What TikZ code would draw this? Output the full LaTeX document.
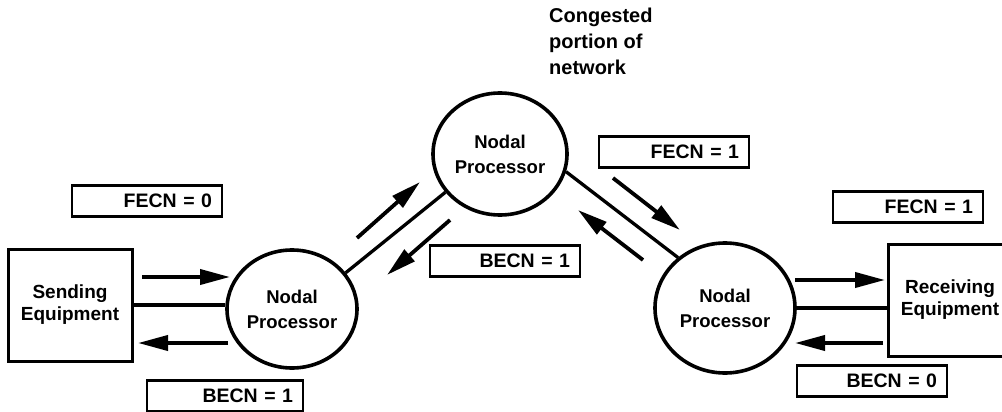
\documentclass[tikz,border=0pt]{standalone}
\usepackage{fontspec}
\setmainfont{Liberation Sans}
\usetikzlibrary{arrows.meta,shapes.geometric,calc}
\begin{document}
\begin{tikzpicture}[x=1pt,y=-1pt,
  proc/.style={draw,ellipse,line width=3.6pt,inner sep=0pt,align=center,
    font=\fontsize{18.5}{25}\selectfont\bfseries},
  equip/.style={draw,rectangle,line width=3pt,inner sep=0pt,align=center,
    minimum width=124pt,minimum height=112pt,
    font=\fontsize{19}{22}\selectfont\bfseries},
  flag/.style={draw,rectangle,line width=2.8pt,inner xsep=10pt,inner ysep=0pt,
    text width=130pt,align=right,minimum height=31pt,
    font=\fontsize{19.5}{22}\selectfont\bfseries},
  flow/.style={line width=3.8pt,-{Triangle[length=30pt,width=15pt]}},
  link/.style={line width=3.3pt}
]
\useasboundingbox (0,0) rectangle (1002,412);
\clip (0,0) rectangle (1002,412);

% equipment boxes
\node[equip] (send) at (70,305) {Sending\\Equipment};
\node[equip] (recv) at (950,300) {Receiving\\Equipment};

% nodal processors
\node[proc,minimum width=130pt,minimum height=118pt] (n1) at (292,309) {Nodal\\Processor};
\node[proc,minimum width=134pt,minimum height=122pt] (n2) at (500,154) {Nodal\\Processor};
\node[proc,minimum width=140pt,minimum height=130pt] (n3) at (725,308) {Nodal\\Processor};

% note
\node[anchor=north west,inner sep=0pt,align=left,
  font=\fontsize{20}{26}\selectfont\bfseries] (note) at (549,8)
  {Congested\\portion of\\network};

% flag boxes
\node[flag] (f0) at (147,201) {FECN = 0};
\node[flag,text width=136pt] (b1a) at (225,396) {BECN = 1};
\node[flag] (b1b) at (505,261) {BECN = 1};
\node[flag] (f1a) at (674,152) {FECN = 1};
\node[flag] (f1b) at (908,207) {FECN = 1};
\node[flag] (b0) at (872,381) {BECN = 0};

% links
\draw[link] (send.east) -- (send.east -| n1.west);
\draw[link] (n1.34) -- (n2.215);
\draw[link] (n2.-15) -- (n3.133);
\draw[link] (n3.east) -- (n3.east -| recv.west);

% arrow end points
\coordinate (a1s) at (142,277); \coordinate (a1e) at (230,277);
\coordinate (a2s) at (228,343); \coordinate (a2e) at (138,343);
\coordinate (a3s) at (357,238); \coordinate (a3e) at (420,182);
\coordinate (a4s) at (450,220); \coordinate (a4e) at (387,275);
\coordinate (a5s) at (613,178); \coordinate (a5e) at (680,230);
\coordinate (a6s) at (643,260); \coordinate (a6e) at (578,210);
\coordinate (a7s) at (795,280); \coordinate (a7e) at (885,280);
\coordinate (a8s) at (883,343); \coordinate (a8e) at (795,343);

\draw[flow] (a1s) -- (a1e);
\draw[flow] (a2s) -- (a2e);
\draw[flow] (a3s) -- (a3e);
\draw[flow] (a4s) -- (a4e);
\draw[flow] (a5s) -- (a5e);
\draw[flow] (a6s) -- (a6e);
\draw[flow] (a7s) -- (a7e);
\draw[flow] (a8s) -- (a8e);
\end{tikzpicture}
\end{document}
